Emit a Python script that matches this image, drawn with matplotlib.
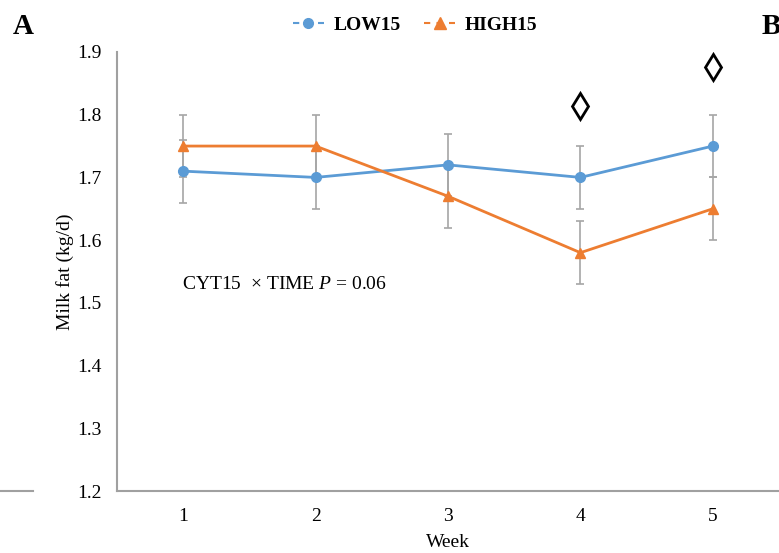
import matplotlib
matplotlib.use("Agg")
import matplotlib.pyplot as plt
from matplotlib.lines import Line2D

# datos
semanas = [1, 2, 3, 4, 5]
low15 = [1.71, 1.70, 1.72, 1.70, 1.75]
low15_se = [0.05, 0.05, 0.05, 0.05, 0.05]
high15 = [1.75, 1.75, 1.67, 1.58, 1.65]
high15_se = [0.05, 0.05, 0.05, 0.05, 0.05]
# simbolos de significancia
sig_semanas = [4, 5]
sig_y = [1.814, 1.876]

plt.rcParams['font.family'] = ['Liberation Serif', 'DejaVu Serif']
plt.rcParams['mathtext.fontset'] = 'custom'
plt.rcParams['mathtext.rm'] = 'Liberation Serif'
plt.rcParams['mathtext.it'] = 'Liberation Serif:italic'

azul = '#5B9BD5'
naranja = '#ED7D31'
gris = '#A6A6A6'

fig = plt.figure(figsize=(7.79, 5.53), dpi=100)
ax = fig.add_axes([0.1502, 0.1121, 0.8498, 0.7939])

ax.errorbar(semanas, low15, yerr=low15_se, color=azul, lw=2, marker='o', ms=7,
            ecolor=gris, elinewidth=1.2, capsize=3, capthick=1.2, zorder=3)
ax.errorbar(semanas, high15, yerr=high15_se, color=naranja, lw=2, marker='^', ms=7,
            ecolor=gris, elinewidth=1.2, capsize=3, capthick=1.2, zorder=3)

ax.plot(sig_semanas, sig_y, linestyle='none', marker='d', ms=13,
        mfc='white', mec='black', mew=2, zorder=4)

ax.text(0.99, 1.53, 'CYT15  × TIME $P$ = 0.06', fontsize=14, ha='left', va='center')

ax.set_xlim(0.5, 5.5)
ax.set_ylim(1.2, 1.9)
ax.set_xticks(semanas)
ax.set_yticks([1.2, 1.3, 1.4, 1.5, 1.6, 1.7, 1.8, 1.9])
ax.set_yticklabels(['1.2', '1.3', '1.4', '1.5', '1.6', '1.7', '1.8', '1.9'])
ax.tick_params(length=0, labelsize=14)
ax.tick_params(axis='x', pad=12)
ax.tick_params(axis='y', pad=11)
for lado in ['top', 'right']:
    ax.spines[lado].set_visible(False)
for lado in ['left', 'bottom']:
    ax.spines[lado].set_color('#A0A0A0')
    ax.spines[lado].set_linewidth(1.5)

ax.set_xlabel('Week', fontsize=14, labelpad=7)
ax.set_ylabel('Milk fat (kg/d)', fontsize=14, labelpad=2)

h1 = Line2D([], [], color=azul, marker='o', ms=7, lw=1.5, dashes=(3, 3))
h2 = Line2D([], [], color=naranja, marker='^', ms=8, lw=1.5, dashes=(3, 3))
fig.legend([h1, h2], ['LOW15', 'HIGH15'], loc='center', bbox_to_anchor=(0.533, 0.955),
           ncol=2, frameon=False, handlelength=1.6, columnspacing=1.2, handletextpad=0.5,
           prop={'weight': 'bold', 'size': 14})

fig.text(0.016, 0.952, 'A', fontsize=21, fontweight='bold', va='center')
fig.text(0.978, 0.952, 'B', fontsize=21, fontweight='bold', va='center')
# resto del eje del grafico vecino
fig.add_artist(Line2D([0, 0.043], [0.1121, 0.1121], color='#A0A0A0', lw=1.5))

fig.savefig('out.png', dpi=100)
